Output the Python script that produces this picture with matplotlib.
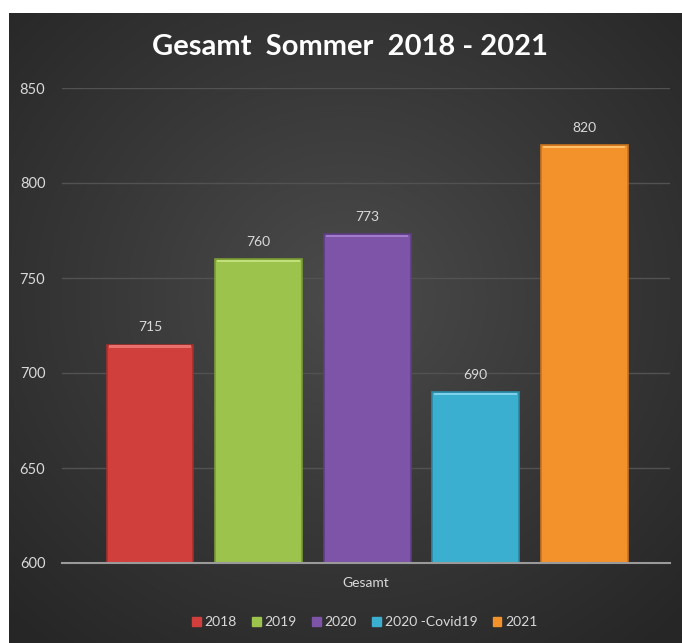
import matplotlib.pyplot as plt
import numpy as np
from matplotlib.colors import LinearSegmentedColormap

plt.rcParams['font.family'] = ['Lato', 'DejaVu Sans']

series = ['2018', '2019', '2020', '2020 -Covid19', '2021']
values = [715, 760, 773, 690, 820]
category = 'Gesamt'
colors = ['#d13f3d', '#9cc34b', '#7e54a9', '#3aafd0', '#f3922b']
edge_colors = ['#a52f2d', '#7a9c35', '#5f3d85', '#2b88a5', '#c9741f']
top_colors = ['#e8706d', '#c1e079', '#a17ccb', '#7fd1ea', '#ffc06a']
text_color = '#d9d9d9'

fig = plt.figure(figsize=(6.82, 6.43), dpi=100, facecolor='white')

# dark radial background, leaving the white strip on top and left
bg = fig.add_axes([9 / 682, 0, 1 - 9 / 682, 1 - 13 / 643])
yy, xx = np.mgrid[-1:1:300j, -1:1:300j]
r = np.sqrt(xx ** 2 + (yy + 0.1) ** 2)
cmap = LinearSegmentedColormap.from_list('bg', ['#4b4b4b', '#383838', '#262626'])
bg.imshow(r, cmap=cmap, vmin=0, vmax=1.45, extent=[0, 1, 0, 1],
          aspect='auto', interpolation='bilinear')
bg.axis('off')

ax = fig.add_axes([62 / 682, 1 - 563 / 643, (670 - 62) / 682, (563 - 88) / 643])
ax.set_facecolor('none')

x = np.arange(len(series))
bars = ax.bar(x, values, width=0.8, color=colors, edgecolor=edge_colors,
              linewidth=1.2, zorder=3)
for b, tc in zip(bars, top_colors):
    ax.bar(b.get_x() + b.get_width() / 2, 1.2, width=0.76, bottom=b.get_height() - 1.6,
           color=tc, linewidth=0, zorder=4)
for b, v in zip(bars, values):
    ax.text(b.get_x() + b.get_width() / 2, v + 6, str(v), ha='center', va='bottom',
            color=text_color, fontsize=10)

ax.set_ylim(600, 850)
ax.set_xlim(-0.81, 4.79)
ax.set_yticks([600, 650, 700, 750, 800, 850])
ax.yaxis.grid(True, color='#525252', linewidth=1, zorder=0)
ax.set_xticks([])
for s in ['top', 'right', 'left']:
    ax.spines[s].set_visible(False)
ax.spines['bottom'].set_color('#9a9a9a')
ax.spines['bottom'].set_linewidth(1.5)
ax.spines['bottom'].set_zorder(5)
ax.tick_params(axis='y', length=0, colors=text_color, labelsize=10.5, pad=12)
ax.set_xlabel(category, color=text_color, fontsize=10, labelpad=10)

fig.text(0.513, 1 - 47 / 643, 'Gesamt  Sommer  2018 - 2021', ha='center', va='center',
         color='white', fontsize=21, fontweight='bold')

handles = [plt.Rectangle((0, 0), 1, 1, color=c) for c in colors]
fig.legend(handles, series, loc='center', bbox_to_anchor=(0.535, 1 - 622 / 643),
           ncol=5, frameon=False, labelcolor=text_color, fontsize=10,
           handlelength=0.6, handleheight=0.6, handletextpad=0.3, columnspacing=1.1)

fig.savefig('out.png', dpi=100, facecolor='white')
